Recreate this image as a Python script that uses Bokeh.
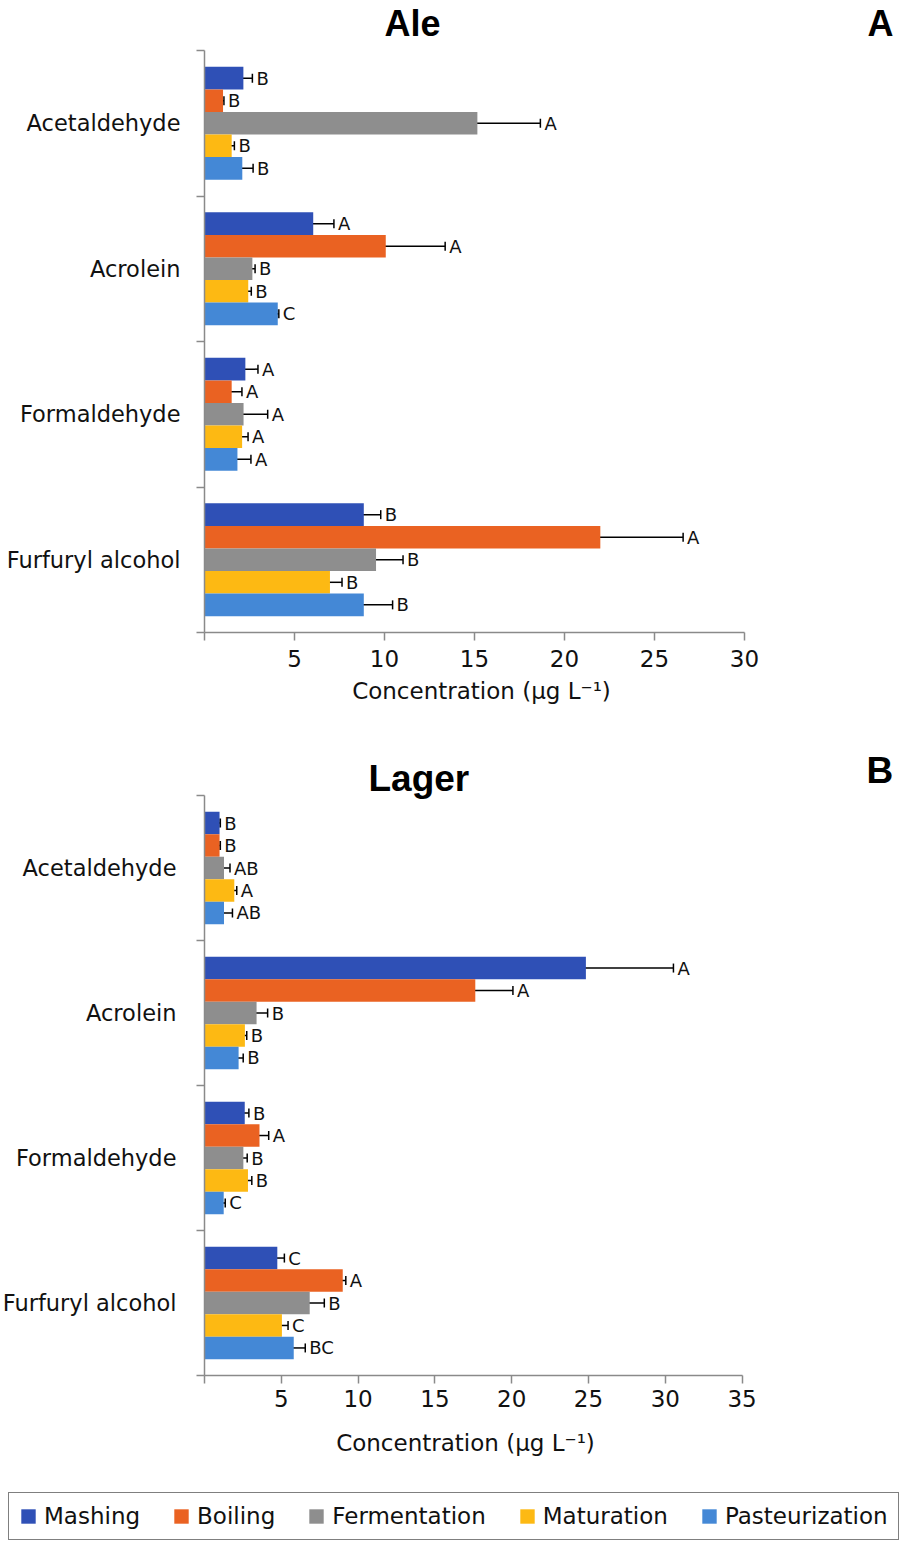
from bokeh.plotting import figure
from bokeh.models import (ColumnDataSource, Range1d, FixedTicker, Whisker, TeeHead,
                          Label, Legend, LegendItem)
from bokeh.layouts import column
from bokeh.core.properties import value
from bokeh.embed import file_html
from bokeh.resources import INLINE

# ---------------- data ----------------
categories = ["Acetaldehyde", "Acrolein", "Formaldehyde", "Furfuryl alcohol"]
stages = ["Mashing", "Boiling", "Fermentation", "Maturation", "Pasteurization"]
colors = ["#2F50B6", "#EA6222", "#8E8E8E", "#FDB913", "#4488D6"]

# Ale (values per stage, in category order)
ale_mashing = [2.16, 6.04, 2.27, 8.85]
ale_boiling = [1.03, 10.07, 1.51, 21.99]
ale_fermentation = [15.16, 2.66, 2.17, 9.53]
ale_maturation = [1.51, 2.43, 2.09, 6.97]
ale_pasteurization = [2.10, 4.07, 1.83, 8.85]

ale_mashing_err = [0.50, 1.15, 0.70, 0.94]
ale_boiling_err = [0.05, 3.30, 0.57, 4.60]
ale_fermentation_err = [3.50, 0.15, 1.34, 1.50]
ale_maturation_err = [0.15, 0.17, 0.33, 0.67]
ale_pasteurization_err = [0.60, 0.06, 0.75, 1.60]

ale_mashing_let = ["B", "A", "A", "B"]
ale_boiling_let = ["B", "A", "A", "A"]
ale_fermentation_let = ["A", "B", "A", "B"]
ale_maturation_let = ["B", "B", "A", "B"]
ale_pasteurization_let = ["B", "C", "A", "B"]

# Lager
lager_mashing = [0.98, 24.83, 2.62, 4.74]
lager_boiling = [0.98, 17.63, 3.58, 9.00]
lager_fermentation = [1.27, 3.39, 2.53, 6.85]
lager_maturation = [1.94, 2.63, 2.83, 5.04]
lager_pasteurization = [1.27, 2.22, 1.25, 5.81]

lager_mashing_err = [0.05, 5.70, 0.27, 0.46]
lager_boiling_err = [0.05, 2.45, 0.60, 0.20]
lager_fermentation_err = [0.39, 0.72, 0.25, 0.95]
lager_maturation_err = [0.16, 0.12, 0.25, 0.40]
lager_pasteurization_err = [0.55, 0.30, 0.10, 0.75]

lager_mashing_let = ["B", "A", "B", "C"]
lager_boiling_let = ["B", "A", "A", "A"]
lager_fermentation_let = ["AB", "B", "B", "B"]
lager_maturation_let = ["A", "B", "B", "C"]
lager_pasteurization_let = ["AB", "B", "C", "BC"]

x_ticks_ale = [0, 5, 10, 15, 20, 25, 30]
x_ticks_lager = [0, 5, 10, 15, 20, 25, 30, 35]

ale_vals = [ale_mashing, ale_boiling, ale_fermentation, ale_maturation, ale_pasteurization]
ale_errs = [ale_mashing_err, ale_boiling_err, ale_fermentation_err, ale_maturation_err, ale_pasteurization_err]
ale_lets = [ale_mashing_let, ale_boiling_let, ale_fermentation_let, ale_maturation_let, ale_pasteurization_let]
lager_vals = [lager_mashing, lager_boiling, lager_fermentation, lager_maturation, lager_pasteurization]
lager_errs = [lager_mashing_err, lager_boiling_err, lager_fermentation_err, lager_maturation_err, lager_pasteurization_err]
lager_lets = [lager_mashing_let, lager_boiling_let, lager_fermentation_let, lager_maturation_let, lager_pasteurization_let]

# ---------------- styling / layout ----------------
FONT = "DejaVu Sans"
TFONT = "Liberation Sans"
AXIS_COLOR = "#8A8A8A"
TEXT_COLOR = "#111111"
BAR_H = 0.155
W = 901
AXIS_X = 204          # pixel column of the value-axis origin
BASE_FIX = 17         # alphabetic-baseline correction for ~37px labels
AX_FIX = 10           # same correction for 23px labels


def build_panel(vals, errs, lets, xticks, px_per_x, px_per_group, height, axis_y,
                ylab_standoff, xlab_standoff, title, title_xy, tag, tag_xy, axtitle_xy,
                title_size):
    ncat = len(categories)
    # the whole canvas is the frame; axes are pinned at the data origin
    p = figure(width=W, height=height, output_backend="svg", toolbar_location=None,
               title=None,
               x_range=Range1d(-AXIS_X / px_per_x, (W - AXIS_X) / px_per_x),
               y_range=Range1d(-(height - axis_y) / px_per_group, axis_y / px_per_group),
               min_border=0)
    p.outline_line_color = None
    p.xgrid.visible = False
    p.ygrid.visible = False
    p.background_fill_color = "white"
    p.border_fill_color = "white"

    renderers = []
    for s, stage in enumerate(stages):
        off = (2 - s) * BAR_H
        ys = [(ncat - 1 - ci) + 0.5 + off for ci in range(ncat)]
        v = vals[s]
        e = errs[s]
        src = ColumnDataSource(dict(
            y=ys, v=v,
            lo=[a - b for a, b in zip(v, e)],
            hi=[a + b for a, b in zip(v, e)],
            let=lets[s]))
        r = p.hbar(y="y", left=0, right="v", height=BAR_H, source=src,
                   fill_color=colors[s], line_color=None)
        renderers.append(r)
        w = Whisker(source=src, base="y", lower="lo", upper="hi", dimension="width",
                    line_color="black", line_width=1.5,
                    upper_head=TeeHead(size=9, line_color="black", line_width=1.5),
                    lower_head=TeeHead(size=9, line_color="black", line_width=1.5))
        p.add_layout(w)
        p.text(x="hi", y="y", text="let", source=src, x_offset=4,
               text_font=value(FONT), text_font_size="18px", text_color=TEXT_COLOR,
               text_baseline="middle", text_align="left")

    # x axis
    xa = p.xaxis[0]
    xa.fixed_location = 0
    xa.bounds = (xticks[0], xticks[-1])
    xa.ticker = FixedTicker(ticks=xticks, minor_ticks=[])
    xa.major_label_overrides = {xticks[0]: ""}
    xa.major_tick_out = 8
    xa.major_tick_in = 0
    xa.minor_tick_out = 0
    xa.axis_line_color = AXIS_COLOR
    xa.axis_line_width = 1.5
    xa.major_tick_line_color = AXIS_COLOR
    xa.major_tick_line_width = 1.5
    xa.major_label_text_font = FONT
    xa.major_label_text_font_size = "23px"
    xa.major_label_text_color = TEXT_COLOR
    xa.major_label_standoff = xlab_standoff

    # y axis: labels at group centres, tick marks at group boundaries
    ya = p.yaxis[0]
    ya.fixed_location = 0
    ya.bounds = (0, ncat)
    centres = [(ncat - 1 - ci) + 0.5 for ci in range(ncat)]
    ya.ticker = FixedTicker(ticks=centres, minor_ticks=list(range(ncat + 1)))
    ya.major_label_overrides = {c: cat for c, cat in zip(centres, categories)}
    ya.major_tick_out = 0
    ya.major_tick_in = 0
    ya.minor_tick_out = 8
    ya.minor_tick_in = 0
    ya.minor_tick_line_color = AXIS_COLOR
    ya.minor_tick_line_width = 1.5
    ya.axis_line_color = AXIS_COLOR
    ya.axis_line_width = 1.5
    ya.major_label_text_font = FONT
    ya.major_label_text_font_size = "22.5px"
    ya.major_label_text_color = TEXT_COLOR
    ya.major_label_standoff = ylab_standoff

    # axis title
    p.add_layout(Label(x=axtitle_xy[0], y=axtitle_xy[1] + AX_FIX, x_units="screen",
                       y_units="screen", text="Concentration (µg L⁻¹)",
                       text_font=FONT, text_font_size="23px", text_color=TEXT_COLOR,
                       text_baseline="alphabetic", text_align="center"))
    p.add_layout(Label(x=title_xy[0], y=title_xy[1] + BASE_FIX, x_units="screen",
                       y_units="screen", text=title, text_font=TFONT,
                       text_font_style="bold", text_font_size=title_size, text_color="black",
                       text_baseline="alphabetic", text_align="left"))
    p.add_layout(Label(x=tag_xy[0], y=tag_xy[1] + BASE_FIX, x_units="screen",
                       y_units="screen", text=tag, text_font=TFONT,
                       text_font_style="bold", text_font_size=title_size, text_color="black",
                       text_baseline="alphabetic", text_align="left"))
    return p, renderers


# Ale canvas: 0..737 px, axis origin at y=632
ale, _ = build_panel(ale_vals, ale_errs, ale_lets, x_ticks_ale, px_per_x=18.0,
                     px_per_group=145.5, height=737, axis_y=632,
                     ylab_standoff=16, xlab_standoff=9,
                     title="Ale", title_xy=(384, 737 - 40), tag="A", tag_xy=(867, 737 - 40),
                     axtitle_xy=(481, 737 - 700), title_size="36px")

# Lager canvas: 737..1543 px, axis origin at y=1375 (i.e. 638 px from its top)
lager, lrs = build_panel(lager_vals, lager_errs, lager_lets, x_ticks_lager, px_per_x=15.36,
                         px_per_group=145.0, height=806, axis_y=638,
                         ylab_standoff=20, xlab_standoff=6,
                         title="Lager", title_xy=(368, 1543 - 795), tag="B",
                         tag_xy=(866, 1543 - 787), axtitle_xy=(465, 1543 - 1452),
                         title_size="37px")

items = [LegendItem(label=stage, renderers=[r]) for stage, r in zip(stages, lrs)]
leg = Legend(items=items, orientation="horizontal", location=(8, 3), margin=0,
             padding=10, spacing=32, glyph_width=18, glyph_height=18, label_standoff=7,
             label_text_font=FONT, label_text_font_size="23px", label_text_color=TEXT_COLOR,
             border_line_color="black", border_line_width=1.5,
             background_fill_color="white", background_fill_alpha=1)
lager.add_layout(leg, "center")

layout = column(ale, lager, spacing=0)
open("out.html", "w").write(file_html(layout, INLINE))
